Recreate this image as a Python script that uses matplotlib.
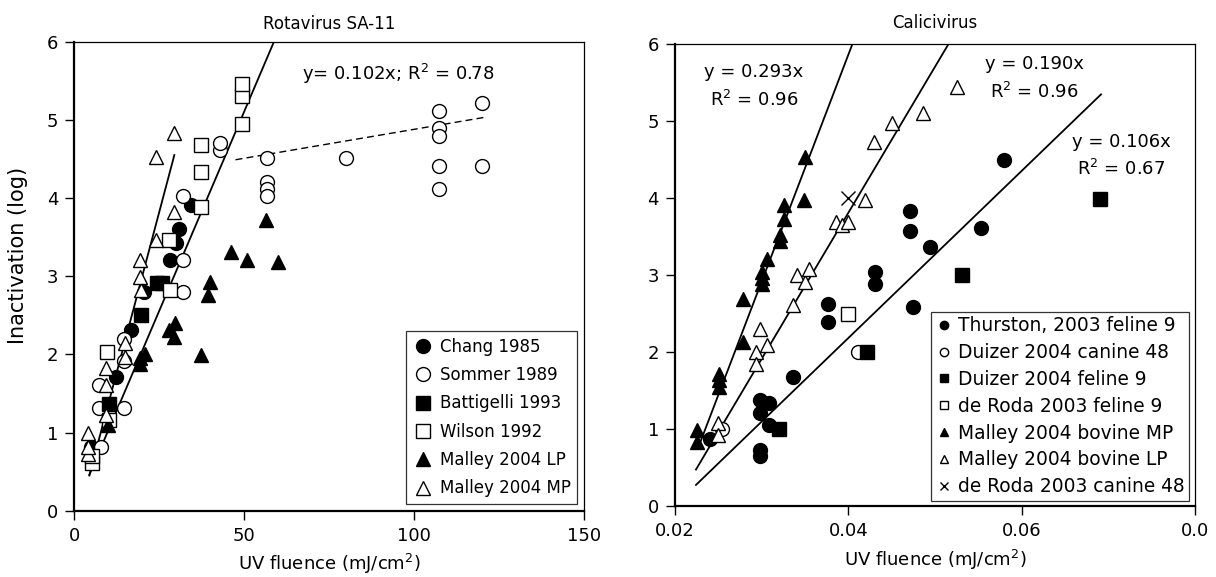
import matplotlib
matplotlib.use('Agg')
import matplotlib.pyplot as plt

plt.rcParams['font.family'] = ['DejaVu Sans']

# ---------------- Left panel: Rotavirus SA-11 ----------------
left_title = "Rotavirus SA-11"
chang_x = [4.9, 12.3, 16.7, 20.5, 28.1, 30.0, 30.9, 34.4]
chang_y = [0.82, 1.71, 2.31, 2.80, 3.21, 3.42, 3.60, 3.91]

sommer_x = [7.9, 7.4, 7.4, 14.8, 14.8, 14.8, 32.0, 32.0, 32.0, 42.8, 42.8,
            56.8, 56.8, 56.8, 56.8, 80.0, 107.3, 107.3, 107.3, 107.3, 107.3,
            120.1, 120.1]
sommer_y = [0.81, 1.31, 1.61, 1.31, 1.91, 2.20, 2.80, 3.21, 4.02, 4.61, 4.70,
            4.51, 4.21, 4.12, 4.03, 4.51, 5.11, 4.90, 4.80, 4.41, 4.11,
            5.21, 4.41]

battigelli_x = [10.3, 19.7, 24.5, 26.0]
battigelli_y = [1.37, 2.50, 2.91, 2.91]

wilson_x = [5.4, 5.4, 9.8, 10.3, 28.2, 28.0, 37.4, 37.4, 37.4, 49.5, 49.5, 49.5]
wilson_y = [0.61, 0.70, 2.03, 1.16, 2.82, 3.46, 3.89, 4.33, 4.68, 4.95, 5.31, 5.46]

malley_lp_x = [10.1, 19.5, 21.0, 19.5, 28.0, 29.8, 29.5, 37.4, 39.4, 39.9,
               46.3, 51.0, 60.0, 56.6]
malley_lp_y = [1.10, 1.88, 2.01, 1.95, 2.31, 2.40, 2.22, 1.99, 2.76, 2.93,
               3.31, 3.21, 3.18, 3.72]

malley_mp_x = [4.2, 4.2, 4.2, 9.35, 9.35, 9.35, 15.0, 15.0, 19.7, 19.4, 19.4,
               24.1, 29.5, 24.1, 29.5]
malley_mp_y = [0.73, 0.82, 1.00, 1.22, 1.61, 1.82, 1.97, 2.14, 2.82, 2.99, 3.21,
               3.46, 3.82, 4.53, 4.83]

# regression lines (end points)
fitA_x = [4.5, 29.5]
fitA_y = [0.45, 4.55]
fitB_x = [4.5, 58.8]
fitB_y = [0.46, 6.0]
dash_x = [47.5, 120.4]
dash_y = [4.49, 5.03]
left_eq = "y= 0.102x; R$^2$ = 0.78"

left_xticks = [0, 50, 100, 150]
yticks = [0, 1, 2, 3, 4, 5, 6]

# ---------------- Right panel: Calicivirus ----------------
right_title = "Calicivirus"
thurston_x = [0.0240, 0.02981, 0.0308, 0.02981, 0.0308, 0.02981, 0.02981,
              0.03365, 0.03769, 0.03769, 0.04308, 0.04308, 0.0475, 0.04712,
              0.04712, 0.04943, 0.05531, 0.0580]
thurston_y = [0.88, 1.38, 1.34, 1.21, 1.06, 0.73, 0.65,
              1.68, 2.63, 2.39, 3.04, 2.89, 2.59, 3.84,
              3.58, 3.37, 3.62, 4.50]

duizer_can_x = [0.0254, 0.04115]
duizer_can_y = [1.00, 2.00]

duizer_fel_x = [0.0320, 0.04212, 0.05309, 0.06905]
duizer_fel_y = [1.00, 2.00, 3.00, 3.99]

deroda_fel_x = [0.0400]
deroda_fel_y = [2.50]

malley_bmp_x = [0.0225, 0.0225, 0.02508, 0.02508, 0.02508, 0.0278, 0.02788,
                0.0300, 0.0300, 0.0300, 0.03058, 0.03212, 0.03212, 0.03258,
                0.03258, 0.03489, 0.03504]
malley_bmp_y = [0.99, 0.84, 1.72, 1.64, 1.55, 2.13, 2.70,
                3.04, 2.96, 2.89, 3.21, 3.52, 3.45, 3.91,
                3.73, 3.98, 4.54]

malley_blp_x = [0.0250, 0.0250, 0.0294, 0.0294, 0.03058, 0.02981, 0.03365,
                0.03404, 0.0350, 0.0355, 0.03858, 0.03924, 0.0400, 0.04193,
                0.04297, 0.0450, 0.04858, 0.05251]
malley_blp_y = [1.08, 0.93, 2.00, 1.85, 2.09, 2.31, 2.61,
                3.00, 2.91, 3.08, 3.69, 3.66, 3.69, 3.98,
                4.73, 4.98, 5.11, 5.44]

deroda_can_x = [0.0400]
deroda_can_y = [4.01]

# fitted lines, end points (x0, y0, x1, y1)
fit_lines = [(0.0228, 0.80, 0.04046, 6.0),
             (0.02242, 0.48, 0.05154, 6.0),
             (0.02242, 0.28, 0.06916, 5.35)]
right_eqs = ["y = 0.293x\nR$^2$ = 0.96", "y = 0.190x\nR$^2$ = 0.96",
             "y = 0.106x\nR$^2$ = 0.67"]
right_eq_pos = [(0.02912, 5.45), (0.06143, 5.55), (0.07147, 4.55)]

right_xticks = [0.02, 0.04, 0.06, 0.08]
right_xticklabels = ["0.02", "0.04", "0.06", "0.0"]

FS = 13
MS = 10

fig = plt.figure(figsize=(12.16, 5.77), dpi=100)
ax1 = fig.add_axes([0.0609, 0.1149, 0.4194, 0.8128])
ax2 = fig.add_axes([0.5551, 0.1222, 0.4276, 0.8010])


def style_axes(ax):
    for s in ['left', 'bottom']:
        ax.spines[s].set_linewidth(1.6)
    for s in ['top', 'right']:
        ax.spines[s].set_linewidth(0.9)
    ax.tick_params(direction='out', length=6.5, width=1.0, labelsize=FS, pad=5)


# ---- left panel ----
ax1.plot(fitA_x, fitA_y, color='black', lw=1.3, zorder=2)
ax1.plot(fitB_x, fitB_y, color='black', lw=1.3, zorder=2)
ax1.plot(dash_x, dash_y, color='black', lw=1.0, ls=(0, (5, 3)), zorder=2)

kw_f = dict(ls='none', ms=MS, mfc='black', mec='black', mew=1.0, zorder=3)
kw_o = dict(ls='none', ms=MS, mfc='white', mec='black', mew=1.0, zorder=3)
ax1.plot(chang_x, chang_y, 'o', label='Chang 1985', **kw_f)
ax1.plot(sommer_x, sommer_y, 'o', label='Sommer 1989', **kw_o)
ax1.plot(battigelli_x, battigelli_y, 's', label='Battigelli 1993', **kw_f)
ax1.plot(wilson_x, wilson_y, 's', label='Wilson 1992', **kw_o)
ax1.plot(malley_lp_x, malley_lp_y, '^', label='Malley 2004 LP', **kw_f)
ax1.plot(malley_mp_x, malley_mp_y, '^', label='Malley 2004 MP', **kw_o)

ax1.text(66.9, 5.59, left_eq, fontsize=FS, ha='left', va='center')
ax1.set_xlim(0, 150)
ax1.set_ylim(0, 6)
ax1.set_xticks(left_xticks)
ax1.set_yticks(yticks)
ax1.set_title(left_title, fontsize=12, pad=9)
ax1.set_xlabel('UV fluence (mJ/cm$^2$)', fontsize=FS, labelpad=5)
ax1.set_ylabel('Inactivation (log)', fontsize=15)
ax1.yaxis.set_label_coords(-0.09, 0.545)
style_axes(ax1)
leg1 = ax1.legend(loc='lower right', fontsize=12, frameon=True, fancybox=False,
                  edgecolor='black', borderaxespad=0.4, handletextpad=0.35,
                  labelspacing=0.62, borderpad=0.4, handlelength=1.3)
leg1.get_frame().set_linewidth(0.9)

# ---- right panel ----
for (x0, y0, x1, y1) in fit_lines:
    ax2.plot([x0, x1], [y0, y1], color='black', lw=1.3, zorder=2)

ax2.plot(thurston_x, thurston_y, 'o', label='Thurston, 2003 feline 9', **kw_f)
ax2.plot(duizer_can_x, duizer_can_y, 'o', label='Duizer 2004 canine 48', **kw_o)
ax2.plot(duizer_fel_x, duizer_fel_y, 's', label='Duizer 2004 feline 9', **kw_f)
ax2.plot(deroda_fel_x, deroda_fel_y, 's', label='de Roda 2003 feline 9', **kw_o)
ax2.plot(malley_bmp_x, malley_bmp_y, '^', label='Malley 2004 bovine MP', **kw_f)
ax2.plot(malley_blp_x, malley_blp_y, '^', label='Malley 2004 bovine LP', **kw_o)
ax2.plot(deroda_can_x, deroda_can_y, 'x', label='de Roda 2003 canine 48',
         ls='none', ms=MS, mec='black', mew=1.0, zorder=3)

for txt, (px, py) in zip(right_eqs, right_eq_pos):
    ax2.text(px, py, txt, fontsize=FS, ha='center', va='center', linespacing=1.55)

ax2.set_xlim(0.02, 0.08)
ax2.set_ylim(0, 6)
ax2.set_xticks(right_xticks)
ax2.set_xticklabels(right_xticklabels)
ax2.set_yticks(yticks)
ax2.set_title(right_title, fontsize=12, pad=12)
ax2.set_xlabel('UV fluence (mJ/cm$^2$)', fontsize=FS, labelpad=5)
style_axes(ax2)
leg2 = ax2.legend(loc='lower right', fontsize=13.4, frameon=True, fancybox=False,
                  edgecolor='black', borderaxespad=0.3, handletextpad=0.3,
                  labelspacing=0.42, borderpad=0.25, handlelength=0.9,
                  markerscale=0.6)
leg2.get_frame().set_linewidth(0.9)

fig.savefig('out.png', dpi=100)
